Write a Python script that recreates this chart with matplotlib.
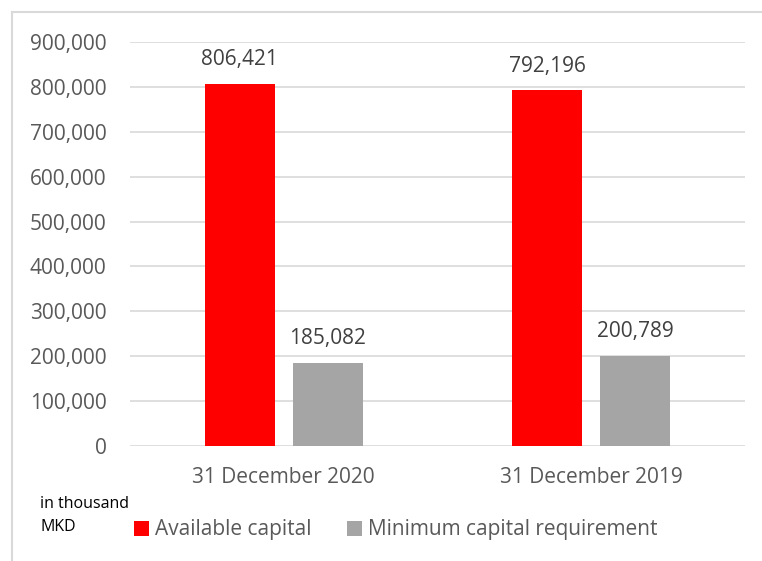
import matplotlib.pyplot as plt
import numpy as np

# Chart data (in thousand MKD)
categories = ["31 December 2020", "31 December 2019"]
available_capital = [806421, 792196]
min_capital_req = [185082, 200789]
y_ticks = np.arange(0, 900001, 100000)

plt.rcParams['font.family'] = ['Open Sans', 'DejaVu Sans']
txt_color = "#595959"

fig = plt.figure(figsize=(7.62, 5.61), dpi=100)
ax = fig.add_axes([130/762, 1-446/561, 615/762, 404/561])

x = np.arange(len(categories))
w = 0.228
off = 0.143
b1 = ax.bar(x - off, available_capital, w, color="#FF0000", label="Available capital", zorder=3)
b2 = ax.bar(x + off, min_capital_req, w, color="#A5A5A5", label="Minimum capital requirement", zorder=3)

for bars in (b1, b2):
    for r in bars:
        ax.annotate(f"{int(r.get_height()):,}", (r.get_x() + r.get_width()/2, r.get_height()),
                    xytext=(0, 10), textcoords="offset points", ha="center", va="bottom",
                    fontsize=15, color="#404040")

ax.set_xlim(-0.5, 1.5)
ax.set_ylim(0, 900000)
ax.set_yticks(y_ticks)
ax.set_yticklabels([f"{v:,}" for v in y_ticks])
ax.set_xticks(x)
ax.set_xticklabels(categories)
ax.tick_params(axis="both", length=0, labelsize=15, labelcolor=txt_color)
ax.tick_params(axis="y", pad=17)
ax.tick_params(axis="x", pad=15)
ax.grid(axis="y", color="#D9D9D9", linewidth=1.2, zorder=0)
for s in ax.spines.values():
    s.set_visible(False)

# outer frame (left and top visible)
fig.add_artist(plt.Line2D([12/762, 12/762], [0, 1-12/561], color="#D9D9D9", lw=1.5))
fig.add_artist(plt.Line2D([12/762, 1], [1-12/561, 1-12/561], color="#D9D9D9", lw=1.5))

fig.text(40/762, 1-504/561, "in thousand", fontsize=11.5, color="black", va="center")
fig.text(40/762, 1-527/561, "MKD", fontsize=11.5, color="black", va="center")

fig.legend(loc="center left", bbox_to_anchor=(115/762, 1-530/561), ncol=2, frameon=False,
           fontsize=15, labelcolor=txt_color, handlelength=0.72, handleheight=0.72,
           handletextpad=0.3, columnspacing=1.7)

fig.savefig("out.png", dpi=100)
